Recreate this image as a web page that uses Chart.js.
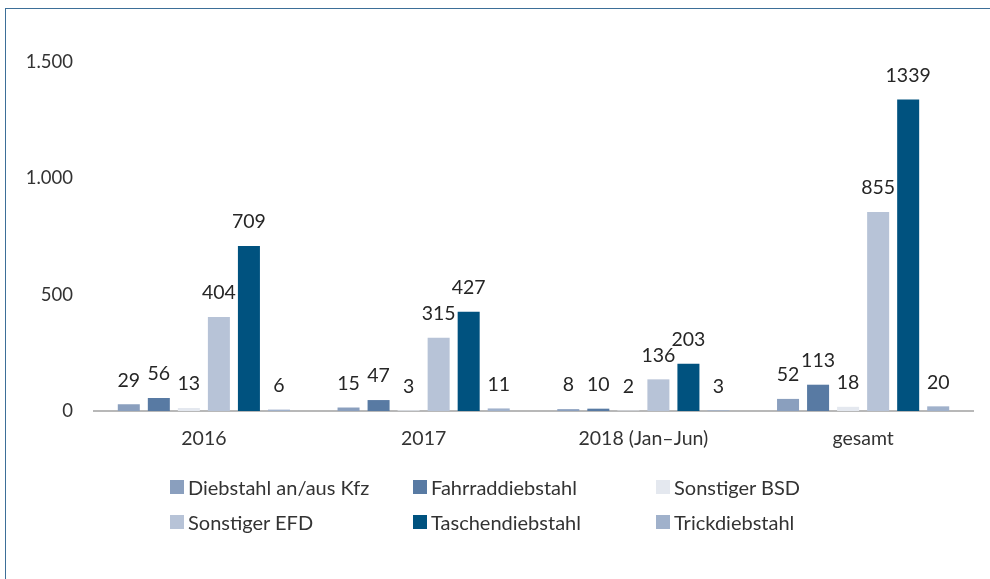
<!DOCTYPE html>
<html>
<head>
<meta charset="utf-8">
<script src="https://cdn.jsdelivr.net/npm/chart.js@4.4.1/dist/chart.umd.min.js"></script>
<style>
  html, body { margin: 0; padding: 0; background: #fff; }
  #wrap { position: relative; width: 990px; height: 579px; overflow: hidden; }
  #c { position: absolute; left: 0; top: 0; }
  .frameL { position: absolute; left: 5px; top: 8px; width: 1px; height: 571px; background: #3d6f98; }
  .frameT { position: absolute; left: 5px; top: 8px; width: 985px; height: 1px; background: #3d6f98; }
  .leg { position: absolute; font-family: Lato, "Open Sans", sans-serif; font-size: 20px; color: #333; white-space: nowrap; line-height: 22px; }
  .leg span.box { position: absolute; left: 0; top: 4px; width: 14px; height: 14px; }
  .leg span.txt { position: absolute; left: 18px; top: 0; }
</style>
</head>
<body>
<div id="wrap">
  <canvas id="c" width="990" height="579"></canvas>
  <div class="frameL"></div>
  <div class="frameT"></div>
  <div id="legend"></div>
</div>
<script>
const categories = ["2016", "2017", "2018 (Jan–Jun)", "gesamt"];
const seriesNames = ["Diebstahl an/aus Kfz", "Fahrraddiebstahl", "Sonstiger BSD", "Sonstiger EFD", "Taschendiebstahl", "Trickdiebstahl"];
const kfz      = [29, 15, 8, 52];
const fahrrad  = [56, 47, 10, 113];
const bsd      = [13, 3, 2, 18];
const efd      = [404, 315, 136, 855];
const tasche   = [709, 427, 203, 1339];
const trick    = [6, 11, 3, 20];
const yTicks   = [0, 500, 1000, 1500];
const colors   = ["#8a9fbe", "#587aa3", "#e4e8ef", "#b7c3d7", "#00527f", "#a0b1cb"];

const seriesData = [kfz, fahrrad, bsd, efd, tasche, trick];

const datasets = seriesData.map((d, i) => ({
  label: seriesNames[i],
  data: d,
  backgroundColor: colors[i],
  borderWidth: 0,
  categoryPercentage: 0.82,
  barPercentage: 0.733
}));

const valueLabels = {
  id: 'valueLabels',
  afterDatasetsDraw(chart) {
    const ctx = chart.ctx;
    ctx.save();
    ctx.font = '19.5px Lato, "Open Sans", sans-serif';
    ctx.fillStyle = '#262626';
    ctx.textAlign = 'center';
    ctx.textBaseline = 'middle';
    chart.data.datasets.forEach((ds, di) => {
      const meta = chart.getDatasetMeta(di);
      meta.data.forEach((bar, i) => {
        ctx.fillText(String(ds.data[i]), bar.x, bar.y - 24);
      });
    });
    ctx.restore();
  }
};

function fmt(v) {
  return String(v).replace(/\B(?=(\d{3})+(?!\d))/g, '.');
}

new Chart(document.getElementById('c'), {
  type: 'bar',
  data: { labels: categories, datasets: datasets },
  options: {
    responsive: false,
    animation: false,
    layout: { padding: { left: 20, right: 17, top: 62, bottom: 128 } },
    plugins: {
      legend: { display: false },
      tooltip: { enabled: false }
    },
    scales: {
      x: {
        grid: { display: false, drawTicks: false },
        border: { display: true, color: '#b8b8b8', width: 2 },
        ticks: {
          padding: 16,
          color: '#333',
          font: { family: 'Lato, "Open Sans", sans-serif', size: 19.5 }
        },
        afterFit(scale) { scale.height = 40; }
      },
      y: {
        min: 0,
        max: 1500,
        grid: { display: false, drawTicks: false },
        border: { display: false },
        afterBuildTicks(scale) { scale.ticks = yTicks.map(v => ({ value: v })); },
        ticks: {
          padding: 21,
          color: '#333',
          font: { family: 'Lato, "Open Sans", sans-serif', size: 18.5 },
          callback: (v) => fmt(v)
        },
        afterFit(scale) { scale.width = 74; }
      }
    }
  },
  plugins: [valueLabels]
});

// HTML legend in 2 rows x 3 columns
const legPos = [[170, 476], [413, 476], [656, 476], [170, 511], [413, 511], [656, 511]];
const legendEl = document.getElementById('legend');
seriesNames.forEach((name, i) => {
  const d = document.createElement('div');
  d.className = 'leg';
  d.style.left = legPos[i][0] + 'px';
  d.style.top = legPos[i][1] + 'px';
  const b = document.createElement('span');
  b.className = 'box';
  b.style.background = colors[i];
  const t = document.createElement('span');
  t.className = 'txt';
  t.textContent = name;
  d.appendChild(b); d.appendChild(t);
  legendEl.appendChild(d);
});
</script>
</body>
</html>
